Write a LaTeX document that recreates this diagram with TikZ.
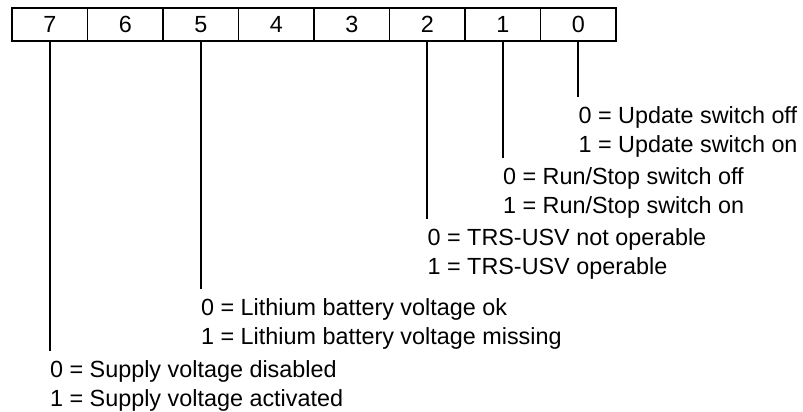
\documentclass[tikz,border=0pt]{standalone}
\usepackage{fontspec}
\setmainfont{Liberation Sans}
\usetikzlibrary{positioning}

\begin{document}
\begin{tikzpicture}[
    every node/.style={font=\fontsize{13.3}{16}\selectfont},
    bitcell/.style={rectangle, draw, line width=1.1pt, minimum width=1.51cm,
      minimum height=0.66cm, inner sep=0pt},
    desc/.style={anchor=north west, align=left, inner xsep=0pt, inner ysep=0.18cm,
      font=\fontsize{13.3}{16.8}\selectfont},
    lead/.style={line width=1.1pt}]
    \useasboundingbox (0,0) rectangle (16.06,-8.24);
    % register
    \node[bitcell] (c7) at (0.995,-0.49) {7};
    \node[bitcell] (c6) at (2.505,-0.49) {6};
    \node[bitcell] (c5) at (4.015,-0.49) {5};
    \node[bitcell] (c4) at (5.525,-0.49) {4};
    \node[bitcell] (c3) at (7.035,-0.49) {3};
    \node[bitcell] (c2) at (8.545,-0.49) {2};
    \node[bitcell] (c1) at (10.055,-0.49) {1};
    \node[bitcell] (c0) at (11.565,-0.49) {0};
    % meanings
    \node[desc] (t0) at (c0.south |- 0,-1.94) {0 = Update switch off\\1 = Update switch on};
    \node[desc] (t1) at (c1.south |- 0,-3.16) {0 = Run/Stop switch off\\1 = Run/Stop switch on};
    \node[desc] (t2) at (c2.south |- 0,-4.38) {0 = TRS-USV not operable\\1 = TRS-USV operable};
    \node[desc] (t5) at (c5.south |- 0,-5.78) {0 = Lithium battery voltage ok\\1 = Lithium battery voltage missing};
    \node[desc] (t7) at (c7.south |- 0,-7.02) {0 = Supply voltage disabled\\1 = Supply voltage activated};
    \draw[lead] (c0.south) -- (c0.south |- t0.north);
    \draw[lead] (c1.south) -- (c1.south |- t1.north);
    \draw[lead] (c2.south) -- (c2.south |- t2.north);
    \draw[lead] (c5.south) -- (c5.south |- t5.north);
    \draw[lead] (c7.south) -- (c7.south |- t7.north);
  \end{tikzpicture}
\end{document}
